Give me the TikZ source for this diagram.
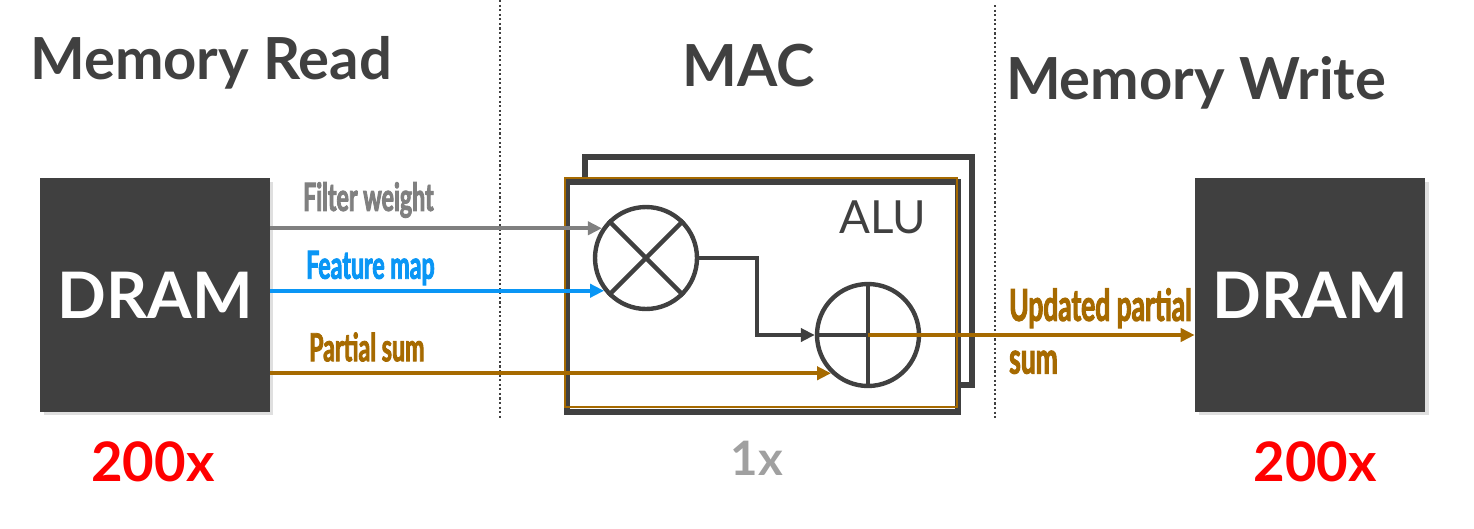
\documentclass[tikz,border=0pt]{standalone}
\usepackage{fontspec}
\setmainfont{Lato}
\newfontfamily\condfont[FakeStretch=0.6, FakeBold=2.2]{Lato}
\usepackage{tikz}
\usetikzlibrary{positioning,arrows.meta,shadows}
\definecolor{BoxGray}{HTML}{404040}
\definecolor{WeightGray}{HTML}{808080}
\definecolor{MapBlue}{HTML}{0A96F5}
\definecolor{SumBrown}{HTML}{A66A00}
\definecolor{CountRed}{HTML}{FF0000}
\definecolor{CountGray}{HTML}{A0A0A0}

\begin{document}
\begin{tikzpicture}[x=0.02cm, y=-0.02cm,
    title/.style={font=\fontsize{33}{40}\selectfont\bfseries, text=BoxGray},
    dram/.style={rectangle, fill=BoxGray, minimum width=4.6cm, minimum height=4.68cm,
        font=\fontsize{36.5}{44}\selectfont\bfseries, text=white,
        drop shadow={opacity=0.25, shadow xshift=2pt, shadow yshift=-2pt}},
    count/.style={font=\fontsize{31}{36}\selectfont\bfseries},
    alubox/.style={rectangle, draw=BoxGray, line width=3.3pt, fill=white},
    op/.style={circle, draw=BoxGray, line width=2.5pt, minimum size=2.04cm, inner sep=0pt},
    arr/.style={-{Triangle[length=8pt, width=7.5pt]}, line width=2.3pt},
    flowlabel/.style={font=\fontsize{22}{27}\selectfont\condfont\bfseries, anchor=west},
    divider/.style={BoxGray, line width=1.2pt, dash pattern=on 1.2pt off 1.4pt},
]
\useasboundingbox (0,0) rectangle (1474,528);

% stage dividers
\coordinate (d1top) at (500,0);
\coordinate (d1bot) at (500,420);
\coordinate (d2top) at (995,5);
\coordinate (d2bot) at (995,420);
\draw[divider] (d1top) -- (d1bot);
\draw[divider] (d2top) -- (d2bot);

% stage titles
\node[title] (tread) at (211,63) {Memory Read};
\node[title] (tmac) at (749,66) {MAC};
\node[title] (twrite) at (1196,83) {Memory Write};

% output label sits under the right memory
\node[flowlabel, font=\fontsize{25}{30}\selectfont\condfont\bfseries, text=SumBrown,
    anchor=north west, align=left] (lupd) at (1003,282) {Updated partial\\sum};

% memories
\node[dram] (dramL) at (155,295) {DRAM};
\node[dram] (dramR) at (1310,295) {DRAM};
\node[count, text=CountRed] (cntL) at (153,462) {200x};
\node[count, text=CountRed] (cntR) at (1315,462) {200x};

% ALU
\node[alubox, minimum width=7.74cm, minimum height=4.56cm,
    drop shadow={opacity=0.2, shadow xshift=2pt, shadow yshift=-2pt}] (aluback) at (778.5,271) {};
\node[alubox, minimum width=7.82cm, minimum height=4.6cm,
    drop shadow={opacity=0.2, shadow xshift=2pt, shadow yshift=-2pt}] (alufront) at (762.5,297) {};
\draw[SumBrown, line width=0.8pt] (565,178) rectangle (957,407);
\node[font=\fontsize{26}{30}\selectfont, text=BoxGray] (alulabel) at (883,217) {ALU};
\node[font=\fontsize{27}{32}\selectfont\bfseries, text=CountGray] (cntM) at (757,458) {1x};

\node[op] (mul) at (646,258) {};
\draw[BoxGray, line width=2.5pt] (mul.north west) -- (mul.south east);
\draw[BoxGray, line width=2.5pt] (mul.north east) -- (mul.south west);
\node[op] (add) at (868,335) {};
\draw[BoxGray, line width=2.5pt] (add.north) -- (add.south);
\draw[BoxGray, line width=2.5pt] (add.west) -- (add.east);

\coordinate (bend) at (757,258);
\draw[arr, BoxGray, line width=2.5pt] (mul.east) -- (bend) |- (add.west);

% operand flows
\draw[arr, WeightGray] (dramL.east |- mul.146) -- (mul.146);
\draw[arr, MapBlue] (dramL.east |- mul.218) -- (mul.218);
\draw[arr, SumBrown] (dramL.east |- add.226) -- (add.226);
\draw[arr, SumBrown] (add.center) -- (dramR.west |- add.center);

\node[flowlabel, text=WeightGray] (lweight) at (297,200) {Filter weight};
\node[flowlabel, text=MapBlue] (lmap) at (300,268) {Feature map};
\node[flowlabel, text=SumBrown] (lsum) at (303,347) {Partial sum};
\end{tikzpicture}
\end{document}
